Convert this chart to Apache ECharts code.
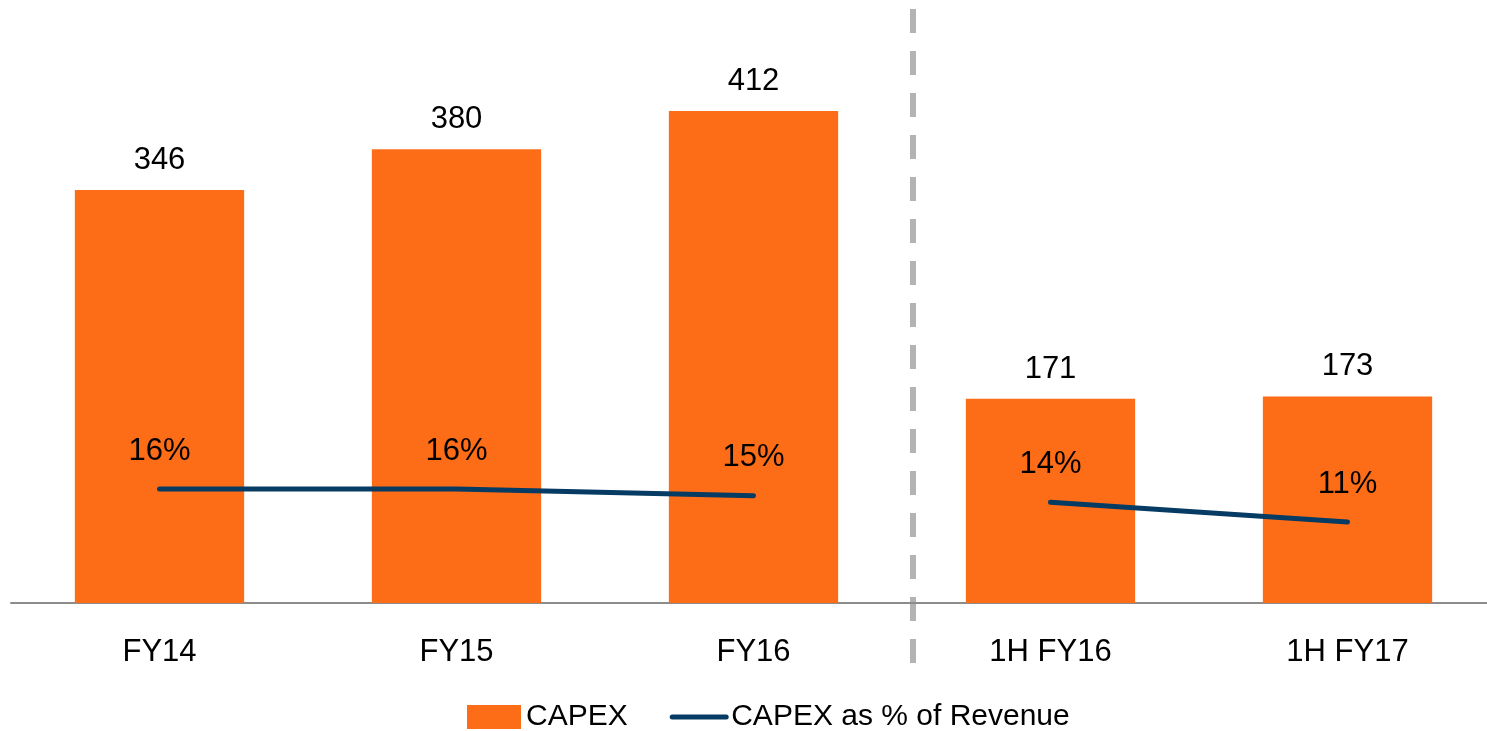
<!DOCTYPE html>
<html>
<head>
<meta charset="utf-8">
<script src="https://cdn.jsdelivr.net/npm/echarts@6/dist/echarts.min.js"></script>
<style>
  html, body { margin: 0; padding: 0; background: #fff; }
  #chart { width: 1487px; height: 731px; }
</style>
</head>
<body>
<div id="chart"></div>
<script>
var categories = ["FY14", "FY15", "FY16", "1H FY16", "1H FY17"];
var capex = [346, 380, 412, 171, 173];
// % of revenue, split in two runs so the line breaks at the divider
var pctFull = [16, 16, 15, null, null];
var pctHalf = [null, null, null, 14, 11];

var orange = "#fd6c16";
var navy = "#063b63";
var font = "'Liberation Sans', Arial, sans-serif";

var chart = echarts.init(document.getElementById("chart"));

var pctLabel = {
  show: true,
  position: "top",
  distance: 22,
  fontSize: 31,
  fontFamily: font,
  color: "#000",
  formatter: function (p) { return p.value + "%"; }
};

function pctSeries(data) {
  return {
    name: "CAPEX as % of Revenue",
    type: "line",
    yAxisIndex: 1,
    data: data,
    symbol: "circle",
    symbolSize: 1,
    showSymbol: true,
    connectNulls: false,
    lineStyle: { color: navy, width: 5, cap: "round" },
    itemStyle: { color: "rgba(0,0,0,0)" },
    label: pctLabel
  };
}

var option = {
  animation: false,
  grid: { left: 11, width: 1485, top: 6, bottom: 128, outerBoundsMode: "none" },
  legend: {
    left: 462,
    top: 697,
    itemWidth: 54,
    itemHeight: 24,
    itemGap: 42,
    textStyle: { fontSize: 30, fontFamily: font, color: "#000" },
    data: [
      { name: "CAPEX", icon: "rect" },
      { name: "CAPEX as % of Revenue", itemStyle: { opacity: 0 }, lineStyle: { width: 5, color: navy } }
    ]
  },
  xAxis: {
    type: "category",
    data: categories,
    axisTick: { show: false },
    axisLine: { lineStyle: { color: "#8c8c8c", width: 2 } },
    axisLabel: { margin: 34, fontSize: 31, fontFamily: font, color: "#000" }
  },
  yAxis: [
    { type: "value", min: 0, max: 500, show: false, splitLine: { show: false } },
    { type: "value", min: -1.27, max: 89.2, show: false, splitLine: { show: false } }
  ],
  series: [
    {
      name: "CAPEX",
      type: "bar",
      data: capex,
      barWidth: "57%",
      itemStyle: { color: orange },
      label: {
        show: true,
        position: "top",
        distance: 14,
        fontSize: 31,
        fontFamily: font,
        color: "#000"
      }
    },
    pctSeries(pctFull),
    pctSeries(pctHalf)
  ]
};

chart.setOption(option);

// dashed divider between full years and half years
var xa = chart.convertToPixel({ xAxisIndex: 0 }, "FY16");
var xb = chart.convertToPixel({ xAxisIndex: 0 }, "1H FY16");
var dx = Math.round((xa + xb) / 2) + 11;
chart.setOption({
  graphic: [{
    type: "line",
    shape: { x1: dx, y1: 9, x2: dx, y2: 665 },
    style: { stroke: "#b3b3b3", lineWidth: 6, lineDash: [24, 18] },
    silent: true
  }]
});
</script>
</body>
</html>
